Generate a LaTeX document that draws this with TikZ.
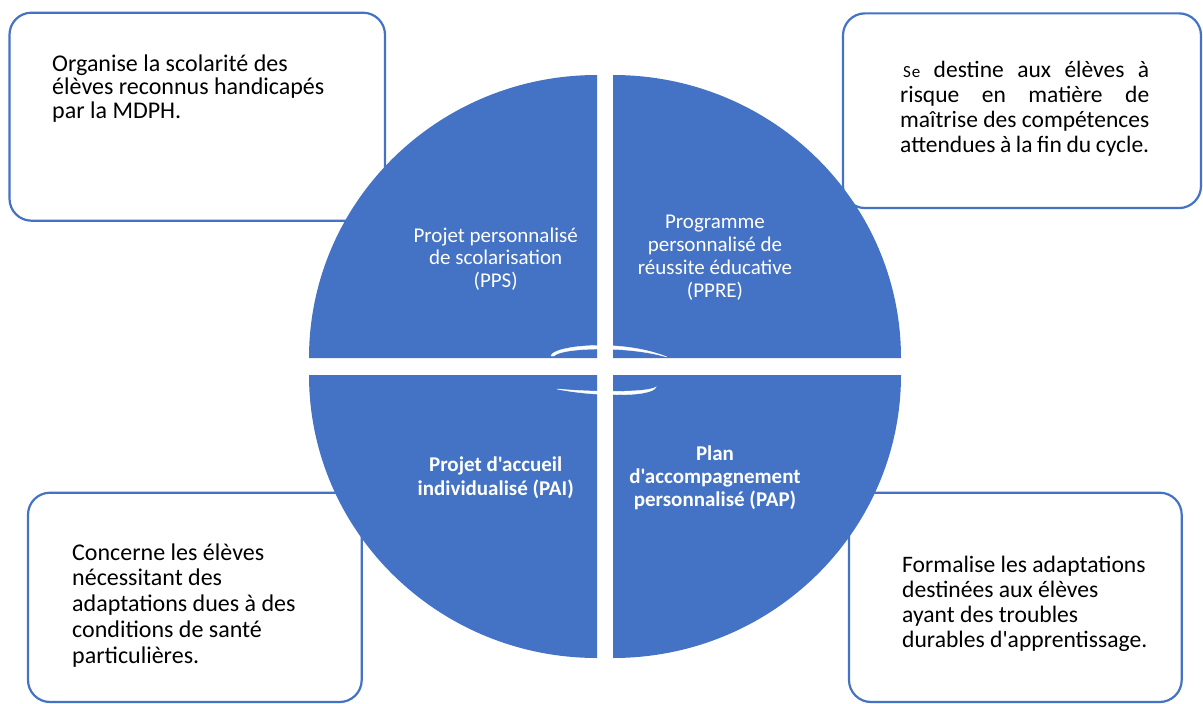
\documentclass[tikz,border=0pt]{standalone}
\usepackage{fontspec}
\setmainfont{Carlito}[Ligatures=TeXOff]
\definecolor{oblue}{HTML}{4472C4}
\tikzset{
  infobox/.style={draw=oblue, line width=2.2pt, fill=white, rounded corners=22pt, inner sep=0pt},
  boxtext/.style={anchor=base west, inner sep=0pt, text=black},
  quad/.style={fill=oblue},
  quadtext/.style={anchor=base, inner sep=0pt, text=white},
  swoosh/.style={fill=white, draw=white, line width=0.4pt}
}
\begin{document}
\begin{tikzpicture}[x=1pt,y=-1pt]
\useasboundingbox (0,0) rectangle (1203,704);
% outer boxes
\node[infobox, minimum width=375.5pt, minimum height=208pt] (bTL) at (197.25,116.7) {};
\node[infobox, minimum width=358pt, minimum height=194.7pt] (bTR) at (1022,110.7) {};
\node[infobox, minimum width=333.7pt, minimum height=209.3pt] (bBL) at (194.85,597.35) {};
\node[infobox, minimum width=332.7pt, minimum height=209.3pt] (bBR) at (1015.35,597.35) {};
% box texts
\node[boxtext] (tTL) at (52,71) {\parbox[t]{320pt}{\fontsize{24}{23.5}\selectfont
  Organise la scolarité des\\élèves reconnus handicapés\\par la MDPH.}};
\node[boxtext] (tTR) at (900,77) {\parbox[t]{249pt}{\fontsize{23.5}{25.3}\selectfont
  \tolerance=9999\hyphenpenalty=10000\parfillskip=0pt
  \hspace*{3pt}{\fontsize{17}{17}\selectfont S\kern0.8pt e} destine aux élèves à\linebreak
  risque en matière de\linebreak
  maîtrise des compétences\linebreak
  attendues à la fin du cycle.}};
\node[boxtext] (tBL) at (72,560) {\parbox[t]{300pt}{\fontsize{24}{25.75}\selectfont
  Concerne les élèves\\nécessitant des\\adaptations dues à des\\conditions de santé\\particulières.}};
\node[boxtext] (tBR) at (902,572) {\parbox[t]{300pt}{\fontsize{23.6}{25.3}\selectfont
  Formalise les adaptations\\destinées aux élèves\\ayant des troubles\\durables d'apprentissage.}};
% quadrants
\fill[quad] (597,358) -- (309,358) arc[start angle=180, end angle=270, x radius=288, y radius=283] -- cycle;
\fill[quad] (613,358) -- (613,75) arc[start angle=270, end angle=360, x radius=288, y radius=283] -- cycle;
\fill[quad] (597,375) -- (309,375) arc[start angle=180, end angle=90, x radius=288, y radius=283] -- cycle;
\fill[quad] (613,375) -- (901,375) arc[start angle=0, end angle=90, x radius=288, y radius=283] -- cycle;
% white swooshes
\filldraw[swoosh] (551,356) .. controls (552,346) and (620,338) .. (667,357)
  .. controls (625,345) and (560,348) .. (554,356) -- cycle;
\filldraw[swoosh] (557,389) .. controls (590,396) and (652,398) .. (656,387)
  .. controls (648,393) and (590,392) .. (557,389) -- cycle;
% quadrant texts
\node[quadtext] (pps) at (495.7,242) {\parbox[t]{220pt}{\centering\fontsize{21}{22.7}\selectfont
  Projet personnalisé\\de scolarisation\\(PPS)}};
\node[quadtext] (ppre) at (715,228) {\parbox[t]{220pt}{\centering\fontsize{21}{23.3}\selectfont
  Programme\\personnalisé de\\réussite éducative\\(PPRE)}};
\node[quadtext] (pai) at (495.7,471.7) {\parbox[t]{220pt}{\centering\fontsize{21}{23.3}\selectfont\bfseries
  Projet d'accueil\\individualisé (PAI)}};
\node[quadtext] (pap) at (715,460.7) {\parbox[t]{220pt}{\centering\fontsize{21}{22.7}\selectfont\bfseries
  Plan\\d'accompagnement\\personnalisé (PAP)}};
\end{tikzpicture}
\end{document}
